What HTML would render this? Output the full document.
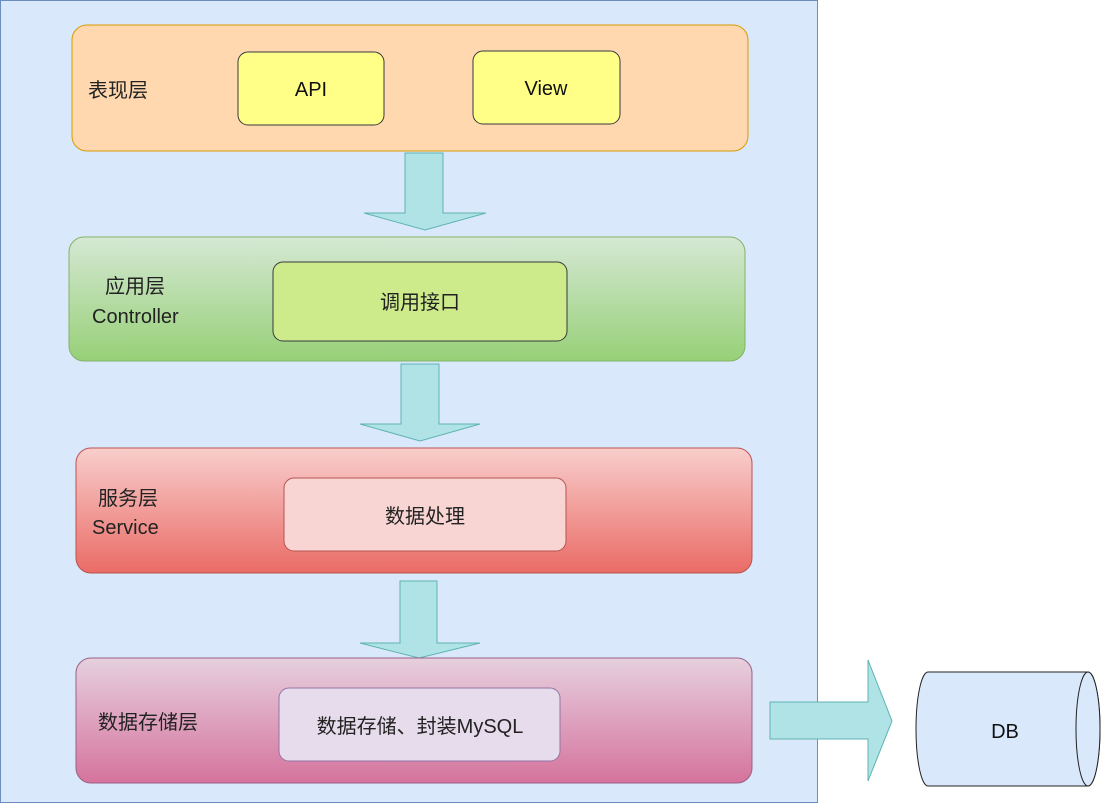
<!DOCTYPE html>
<html><head><meta charset="utf-8"><style>
html,body{margin:0;padding:0;background:#fff;}
svg{display:block;font-family:"Liberation Sans","Noto Sans CJK SC",sans-serif;}
</style></head><body>
<svg width="1107" height="804" viewBox="0 0 1107 804" xmlns="http://www.w3.org/2000/svg">
<defs>
<linearGradient id="g" x1="0" y1="0" x2="0" y2="1"><stop offset="0" stop-color="#d5e8d4"/><stop offset="1" stop-color="#97d077"/></linearGradient>
<linearGradient id="r" x1="0" y1="0" x2="0" y2="1"><stop offset="0" stop-color="#f8cecc"/><stop offset="1" stop-color="#ea6b66"/></linearGradient>
<linearGradient id="p" x1="0" y1="0" x2="0" y2="1"><stop offset="0" stop-color="#e6d0de"/><stop offset="1" stop-color="#d5739d"/></linearGradient>
</defs>
<rect x="0.5" y="0.5" width="817" height="802" fill="#dae8fc" stroke="#6c8ebf"/>
<rect x="72" y="25" width="676" height="126" rx="15" fill="#ffd8b0" stroke="#d79b00"/>
<text x="88" y="97" font-size="20" fill="#222">表现层</text>
<rect x="238" y="52" width="146" height="73" rx="10" fill="#ffff88" stroke="#36393d"/>
<text x="311" y="96" font-size="20" text-anchor="middle" fill="#111">API</text>
<rect x="473" y="51" width="147" height="73" rx="10" fill="#ffff88" stroke="#36393d"/>
<text x="546" y="95" font-size="20" text-anchor="middle" fill="#111">View</text>
<polygon points="405,153 443,153 443,213 486,213 425,230 364,213 405,213" fill="#b0e3e6" stroke="#5fb3b3"/>
<rect x="69" y="237" width="676" height="124" rx="15" fill="url(#g)" stroke="#82b366"/>
<text x="105" y="293" font-size="20" fill="#222">应用层</text>
<text x="92" y="323" font-size="20" fill="#222">Controller</text>
<rect x="273" y="262" width="294" height="79" rx="10" fill="#cdeb8b" stroke="#36393d"/>
<text x="420" y="309" font-size="20" text-anchor="middle" fill="#222">调用接口</text>
<polygon points="401,364 439,364 439,424 480,424 420,441 360,424 401,424" fill="#b0e3e6" stroke="#5fb3b3"/>
<rect x="76" y="448" width="676" height="125" rx="15" fill="url(#r)" stroke="#b85450"/>
<text x="98" y="505" font-size="20" fill="#222">服务层</text>
<text x="92" y="534" font-size="20" fill="#222">Service</text>
<rect x="284" y="478" width="282" height="73" rx="10" fill="#f8d5d3" stroke="#b85450"/>
<text x="425" y="523" font-size="20" text-anchor="middle" fill="#222">数据处理</text>
<polygon points="400,581 437,581 437,643 480,643 419,658 360,643 400,643" fill="#b0e3e6" stroke="#5fb3b3"/>
<rect x="76" y="658" width="676" height="125" rx="15" fill="url(#p)" stroke="#996185"/>
<text x="98" y="729" font-size="20" fill="#222">数据存储层</text>
<rect x="279" y="688" width="281" height="73" rx="10" fill="#e6dcec" stroke="#9673a6"/>
<text x="420" y="733" font-size="20" text-anchor="middle" fill="#222">数据存储、封装MySQL</text>
<polygon points="770,702 868,702 868,660 892,721 868,781 868,739 770,739" fill="#b0e3e6" stroke="#5fb3b3"/>
<path d="M928,672 L1088,672 A12,57 0 0 1 1088,786 L928,786 A12,57 0 0 1 928,672 Z" fill="#dae8fc" stroke="#222"/>
<ellipse cx="1088" cy="729" rx="12" ry="57" fill="#dae8fc" stroke="#222"/>
<text x="1005" y="738" font-size="20" text-anchor="middle" fill="#111">DB</text>
</svg>
</body></html>
